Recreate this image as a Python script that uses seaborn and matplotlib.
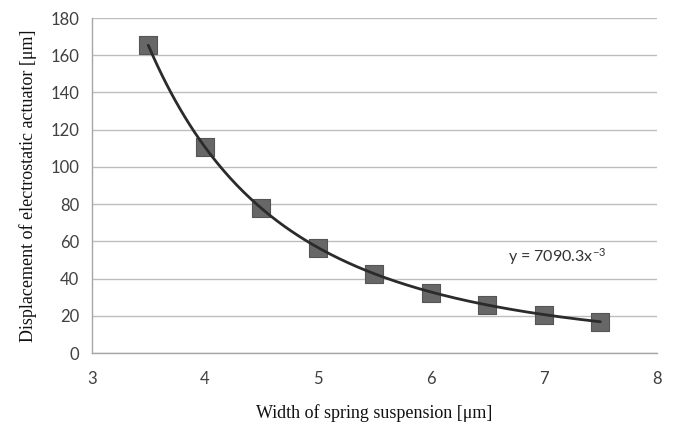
import numpy as np
import pandas as pd
import seaborn as sns
from matplotlib import pyplot as plt

width_um = [3.5, 4.0, 4.5, 5.0, 5.5, 6.0, 6.5, 7.0, 7.5]
displacement_um = [165.5, 110.8, 77.9, 56.2, 42.4, 32.4, 25.8, 20.4, 16.8]

# power trendline shown on the chart: y = a * x^b
fit_coef = 7090.3
fit_exp = -3

x_ticks = [3, 4, 5, 6, 7, 8]
y_ticks = [0, 20, 40, 60, 80, 100, 120, 140, 160, 180]

sns.set_style("white")
plt.rcParams['font.family'] = ['Lato', 'DejaVu Sans']
plt.rcParams['mathtext.default'] = 'regular'

data = pd.DataFrame({'width': width_um, 'disp': displacement_um})
xs = np.linspace(min(width_um), max(width_um), 200)
trend = pd.DataFrame({'width': xs, 'disp': fit_coef * xs ** fit_exp})

fig = plt.figure(figsize=(6.75, 4.3), dpi=100)
ax = fig.add_axes([0.136, 0.179, 0.837, 0.779])

sns.scatterplot(data=data, x='width', y='disp', marker='s', s=150,
                color='#676767', edgecolor='#555555', linewidth=0.8,
                ax=ax, zorder=3)
sns.lineplot(data=trend, x='width', y='disp', color='#2b2b2b', linewidth=2.0,
             ax=ax, zorder=4)

ax.set_xlim(3, 8)
ax.set_ylim(0, 180)
ax.set_xticks(x_ticks)
ax.set_yticks(y_ticks)
ax.grid(axis='y', color='#bdbdbd', linewidth=1.0)
ax.set_axisbelow(True)

for s in ['top', 'right']:
    ax.spines[s].set_visible(False)
for s in ['left', 'bottom']:
    ax.spines[s].set_color('#a6a6a6')
    ax.spines[s].set_linewidth(1.0)

ax.tick_params(axis='both', direction='out', length=5, color='#a6a6a6',
               labelsize=12, labelcolor='#404040')
ax.tick_params(axis='y', pad=4)
ax.tick_params(axis='x', pad=8)

ax.set_xlabel('Width of spring suspension [\u03bcm]', family='Liberation Serif',
              fontsize=13, color='#111111', labelpad=12)
ax.set_ylabel('Displacement of electrostatic actuator [\u03bcm]',
              family='Liberation Serif', fontsize=13, color='#111111', labelpad=10)

ax.text(6.68, 49, 'y = 7090.3x$^{-3}$', fontsize=11.5, color='#333333')

fig.savefig('out.png', dpi=100)
